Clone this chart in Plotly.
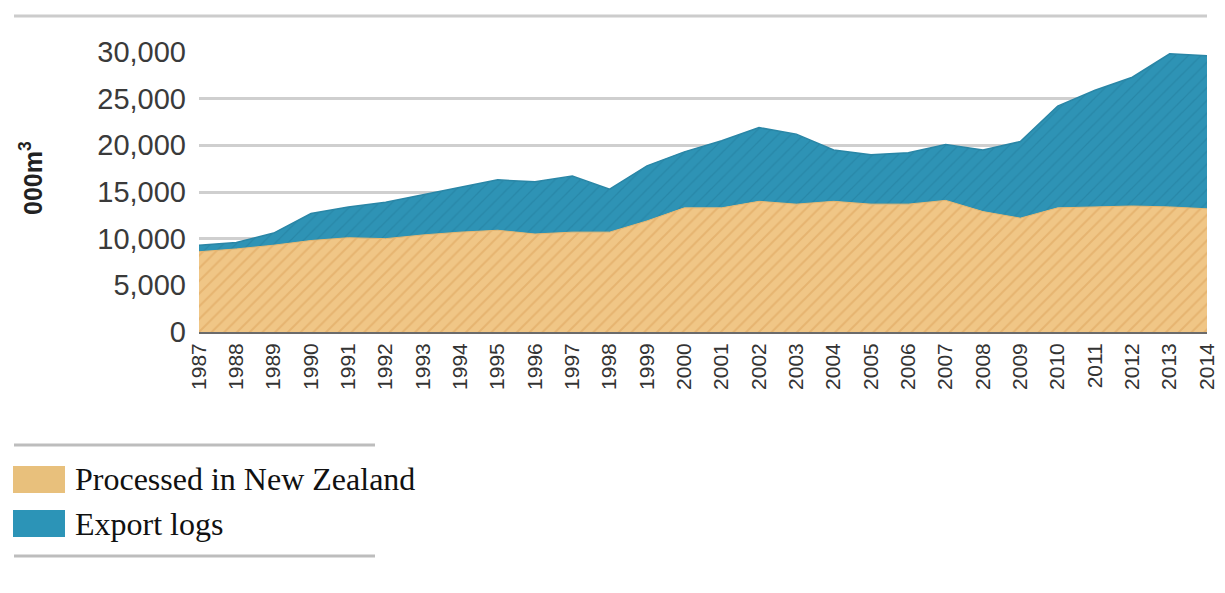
import plotly.graph_objects as go

# Roundwood removals, thousand cubic metres
years = list(range(1987, 2015))
processed_nz = [8600, 8900, 9300, 9800, 10100, 10000, 10400, 10700, 10900, 10500,
                10700, 10700, 11900, 13300, 13300, 14000, 13700, 14000, 13700, 13700,
                14100, 12900, 12200, 13300, 13400, 13500, 13400, 13200]
export_logs = [700, 700, 1300, 2900, 3300, 3900, 4300, 4800, 5400, 5600,
               6000, 4600, 5900, 6000, 7200, 7900, 7500, 5500, 5300, 5500,
               6000, 6600, 8200, 10900, 12500, 13800, 16400, 16400]
y_ticks = [0, 5000, 10000, 15000, 20000, 25000, 30000]
series_names = ["Processed in New Zealand", "Export logs"]

W, H = 1225, 593
L, R, T, B = 199, 18, 52, 261
PW, PH = W - L - R, H - T - B


def px(x):
    return (x - L) / PW


def py(y):
    return (H - B - y) / PH


TAN, TAN_DARK = "#F0C686", "#DBA25A"
TEAL, TEAL_DARK = "#2E93B5", "#217C9C"

fig = go.Figure()
fig.add_trace(go.Scatter(
    x=years, y=processed_nz, name=series_names[0], stackgroup="one",
    mode="lines", line=dict(width=1, color="#E8B66E"),
    fillcolor=TAN,
    fillpattern=dict(shape="/", bgcolor=TAN, fgcolor=TAN_DARK, size=9, solidity=0.22),
    showlegend=False,
))
fig.add_trace(go.Scatter(
    x=years, y=export_logs, name=series_names[1], stackgroup="one",
    mode="lines", line=dict(width=1.5, color="#2A86A6"),
    fillcolor=TEAL,
    fillpattern=dict(shape="/", bgcolor=TEAL, fgcolor=TEAL_DARK, size=9, solidity=0.15),
    showlegend=False,
))

fig.update_xaxes(
    range=[years[0], years[-1]], tickmode="array", tickvals=years,
    ticktext=[str(y) for y in years], tickangle=-90,
    tickfont=dict(family="Liberation Sans", size=21, color="#333333"),
    showgrid=False, zeroline=False, showline=False, ticks="",
    ticklabelstandoff=6,
)
fig.update_yaxes(
    range=[0, 30000], tickmode="array", tickvals=y_ticks,
    ticktext=[f"{v:,}" for v in y_ticks],
    tickfont=dict(family="Liberation Sans", size=29, color="#3a3a3a"),
    showgrid=True, gridcolor="#cfcfcf", gridwidth=3,
    zeroline=True, zerolinecolor="#6b6b6b", zerolinewidth=3,
    showline=False, ticks="", ticklabelstandoff=12,
)

shapes = [
    dict(type="line", xref="paper", yref="paper", x0=px(14), x1=px(1207),
         y0=py(16), y1=py(16), line=dict(color="#cccccc", width=3)),
    dict(type="line", xref="paper", yref="paper", x0=px(14), x1=px(375),
         y0=py(445), y1=py(445), line=dict(color="#bdbdbd", width=3)),
    dict(type="line", xref="paper", yref="paper", x0=px(14), x1=px(375),
         y0=py(556), y1=py(556), line=dict(color="#bdbdbd", width=3)),
    dict(type="rect", xref="paper", yref="paper", x0=px(13), x1=px(65),
         y0=py(493), y1=py(466), fillcolor="#E8C07C", line=dict(width=0)),
    dict(type="rect", xref="paper", yref="paper", x0=px(13), x1=px(65),
         y0=py(537), y1=py(510), fillcolor="#2C94B7", line=dict(width=0)),
]

annotations = [
    dict(text="<b>000m<sup>3</sup></b>", xref="paper", yref="paper",
         x=px(31), y=py(178), textangle=-90, showarrow=False,
         xanchor="center", yanchor="middle",
         font=dict(family="Liberation Sans", size=25, color="#222222")),
    dict(text=series_names[0], xref="paper", yref="paper", x=px(73), y=py(479),
         xanchor="left", yanchor="middle", showarrow=False,
         font=dict(family="Liberation Serif", size=32, color="#111111")),
    dict(text=series_names[1], xref="paper", yref="paper", x=px(73), y=py(524),
         xanchor="left", yanchor="middle", showarrow=False,
         font=dict(family="Liberation Serif", size=32, color="#111111")),
]

fig.update_layout(
    width=W, height=H,
    margin=dict(l=L, r=R, t=T, b=B, autoexpand=False),
    paper_bgcolor="white", plot_bgcolor="white",
    shapes=shapes, annotations=annotations, showlegend=False,
)

fig.write_html("out.html")
